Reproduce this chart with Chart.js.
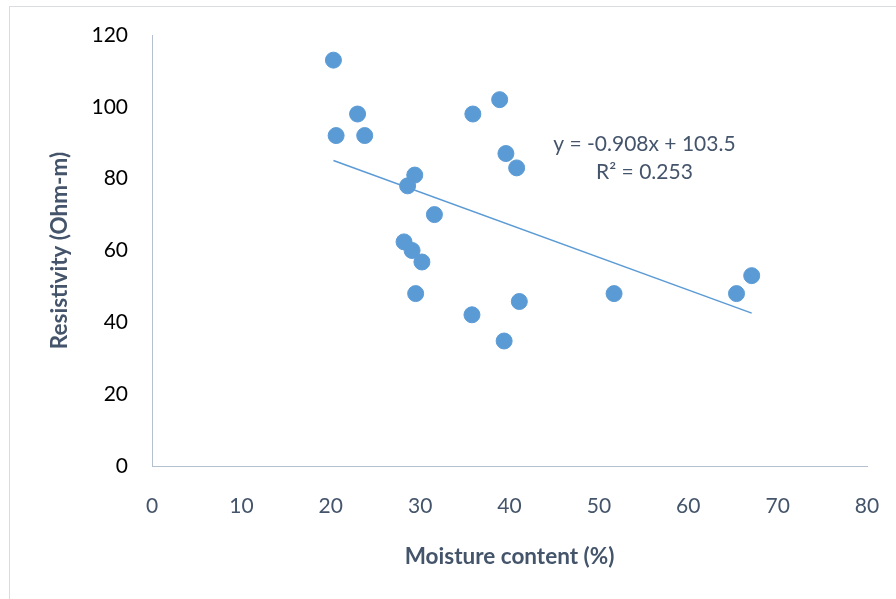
<!DOCTYPE html>
<html>
<head>
<meta charset="utf-8">
<script src="https://cdn.jsdelivr.net/npm/chart.js@4"></script>
<style>
  html, body { margin: 0; padding: 0; background: #fff; }
  #wrap { width: 896px; height: 599px; }
</style>
</head>
<body>
<div id="wrap"><canvas id="chart" width="896" height="599"></canvas></div>
<script>
// moisture content (%) vs resistivity (Ohm-m)
const moisture = [20.3, 20.6, 23.0, 23.8, 38.9, 35.9, 39.6, 40.8, 29.4, 28.6, 31.6, 28.2, 29.1, 30.2, 29.5, 35.8, 39.4, 41.1, 51.7, 65.4, 67.1];
const resistivity = [113, 92, 98, 92, 102, 98, 87, 83, 81, 78, 70, 62.4, 60, 56.8, 48, 42.1, 34.8, 45.8, 48, 48, 53];

// linear trend from the printed equation
const slope = -0.908;
const intercept = 103.5;
const trendText = ['y = -0.908x + 103.5', 'R\u00b2 = 0.253'];

const xTicks = [0, 10, 20, 30, 40, 50, 60, 70, 80];
const yTicks = [0, 20, 40, 60, 80, 100, 120];

const FONT = 'Lato, "Open Sans", sans-serif';
const SLATE = '#44546a';
const AXIS = '#b4bfcf';

const points = moisture.map((x, i) => ({ x: x, y: resistivity[i] }));
const xMin = Math.min(...moisture);
const xMax = Math.max(...moisture);
const trend = [
  { x: xMin, y: slope * xMin + intercept },
  { x: xMax, y: slope * xMax + intercept }
];

const frame = {
  id: 'frame',
  beforeDraw(chart) {
    const ctx = chart.ctx;
    ctx.save();
    ctx.strokeStyle = '#d9dde3';
    ctx.lineWidth = 1;
    ctx.strokeRect(9.5, 6.5, chart.width, chart.height);
    ctx.restore();
  }
};

const equation = {
  id: 'equation',
  afterDatasetsDraw(chart) {
    const ctx = chart.ctx;
    const xs = chart.scales.x;
    const ys = chart.scales.y;
    ctx.save();
    ctx.font = '21px ' + FONT;
    ctx.fillStyle = SLATE;
    ctx.textAlign = 'center';
    ctx.textBaseline = 'middle';
    ctx.fillText(trendText[0], xs.getPixelForValue(55.1), ys.getPixelForValue(89.6));
    ctx.fillText(trendText[1], xs.getPixelForValue(55.1), ys.getPixelForValue(81.8));
    ctx.restore();
  }
};

new Chart(document.getElementById('chart').getContext('2d'), {
  type: 'scatter',
  data: {
    datasets: [
      {
        label: 'Resistivity',
        data: points,
        backgroundColor: '#5b9bd5',
        borderColor: '#5b9bd5',
        pointRadius: 8,
        pointHoverRadius: 8,
        order: 2
      },
      {
        label: 'Trend',
        type: 'line',
        data: trend,
        borderColor: '#5b9bd5',
        borderWidth: 1.5,
        pointRadius: 0,
        fill: false,
        order: 1
      }
    ]
  },
  options: {
    responsive: false,
    animation: false,
    layout: { padding: { left: 10, right: 29, top: 35, bottom: 25 } },
    plugins: {
      legend: { display: false },
      tooltip: { enabled: false }
    },
    scales: {
      x: {
        type: 'linear',
        min: 0,
        max: 80,
        afterBuildTicks: (s) => { s.ticks = xTicks.map(v => ({ value: v })); },
        afterFit: (s) => { s.height = 108; s.paddingLeft = 0; s.paddingRight = 0; },
        grid: { display: false, drawTicks: false },
        border: { display: true, color: AXIS, width: 1 },
        ticks: { color: SLATE, font: { family: FONT, size: 21 }, padding: 28, maxRotation: 0 },
        title: {
          display: true,
          text: 'Moisture content (%)',
          color: SLATE,
          font: { family: FONT, size: 22.5, weight: 'bold' },
          padding: { top: 0, bottom: 4 }
        }
      },
      y: {
        min: 0,
        max: 120,
        afterBuildTicks: (s) => { s.ticks = yTicks.map(v => ({ value: v })); },
        afterFit: (s) => { s.width = 142; s.paddingTop = 0; s.paddingBottom = 0; },
        grid: { display: false, drawTicks: false },
        border: { display: true, color: AXIS, width: 1 },
        ticks: { color: '#000', font: { family: FONT, size: 21 }, padding: 24 },
        title: {
          display: true,
          text: 'Resistivity (Ohm-m)',
          color: SLATE,
          font: { family: FONT, size: 22.5, weight: 'bold' },
          padding: { top: 36, bottom: 0 }
        }
      }
    }
  },
  plugins: [frame, equation]
});
</script>
</body>
</html>
